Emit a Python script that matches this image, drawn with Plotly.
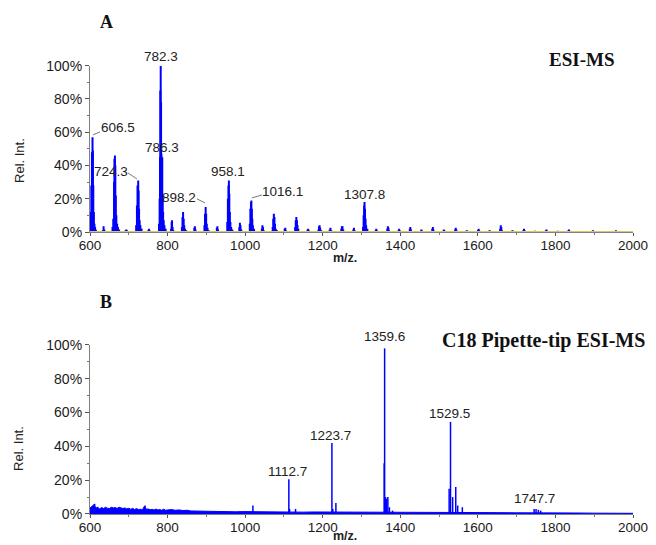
import plotly.graph_objects as go

# ---------------- data ----------------
# Panel A: ESI-MS, stick intensities (m/z, % rel. int.)
a_mz = [601, 602, 603.5, 605, 606.5, 607.5, 608.5, 610, 611.5, 613, 615,
        633, 635, 637,
        658, 660, 662, 663, 664.3, 665.3, 666.5, 668, 670, 672, 675,
        692, 693.5, 695,
        719, 721, 722.5, 724.3, 725.3, 726.5, 728, 730, 733,
        750.5, 752, 753.5,
        778, 779.5, 780.5, 781.3, 782.3, 783.2, 784.2, 785.2, 786.3, 787.3, 788.5, 790, 792, 795,
        809, 810.5, 811.5, 813, 815,
        837, 838.5, 840, 841.5, 843, 845, 848,
        869, 870.5, 872,
        895, 896.5, 898.2, 899.5, 901, 903, 906,
        927, 928.5, 930,
        954, 955.5, 957, 958.1, 959.2, 960.5, 962, 964, 967,
        985, 986.5, 988, 990,
        1012, 1013.5, 1015, 1016.1, 1017.3, 1018.5, 1020, 1023,
        1043, 1044.5, 1046, 1048,
        1071, 1072.5, 1074, 1075.5, 1077, 1079, 1082,
        1102, 1103.5, 1105,
        1129, 1130.5, 1132, 1133.5, 1135, 1137,
        1161, 1162.5, 1164,
        1189, 1190.5, 1192, 1193.5, 1196,
        1218, 1220, 1222,
        1248, 1249.5, 1251, 1253,
        1279, 1280.5, 1282,
        1304, 1305.5, 1306.8, 1307.8, 1309, 1310.5, 1312, 1315,
        1336.5, 1338, 1339.5,
        1366.5, 1368, 1369.5, 1371,
        1395.5, 1397, 1398.5,
        1424.5, 1426, 1427.5,
        1454, 1455.5,
        1482.5, 1484, 1485.5,
        1512, 1513.5,
        1541.5, 1543, 1544.5,
        1571, 1572.5,
        1600.5, 1602, 1603.5,
        1630, 1631.5,
        1657.5, 1659, 1660.5, 1662,
        1689, 1690.5,
        1717.5, 1719, 1720.5,
        1747,
        1775.5, 1777, 1778.5,
        1806,
        1833.5, 1835, 1836.5,
        1865,
        1895.5, 1897, 1898.5,
        1926,
        1954.5, 1956, 1957.5]
a_int = [12, 10, 28, 48, 57, 49, 28, 12, 5, 3, 1.5,
         1, 3.5, 1.5,
         3, 8, 30, 44, 46, 40, 22, 10, 5, 3, 1.5,
         1, 1.5, 1,
         4, 16, 28, 31, 25, 14, 7, 4, 2,
         1, 2, 1,
         5, 20, 45, 85, 100, 78, 47, 44, 45, 22, 12, 7, 4, 2,
         2, 6, 7, 3, 1,
         3, 9, 12, 8, 4, 2, 1,
         2.5, 3.5, 1.5,
         4, 11, 15, 11, 5, 2.5, 1,
         2.5, 3.5, 1.5,
         6, 20, 28, 31, 23, 12, 6, 3, 1.5,
         3, 5.5, 4, 1.5,
         5, 14, 18, 19, 14, 8, 4, 2,
         2, 4, 3, 1,
         3, 8, 11, 9, 5, 2, 1,
         2, 2.5, 1,
         3, 7, 9, 7, 4, 2,
         1.5, 2, 1,
         1.5, 3.5, 4, 2.5, 1,
         1.5, 2.5, 1,
         2, 3.5, 3.5, 1.5,
         1.5, 2.5, 1,
         3, 10, 16, 18, 14, 8, 4, 2,
         1, 2, 1,
         2, 3.5, 2.5, 1,
         1, 2, 1,
         2, 3, 1.5,
         1.5, 1,
         2, 3, 1.5,
         1.5, 1,
         1.5, 2.5, 1.5,
         1, 0.7,
         1.2, 2, 1,
         1, 0.7,
         2, 4, 3, 1,
         1, 0.7,
         1.2, 2, 1,
         0.7,
         1, 1.5, 0.8,
         0.7,
         1, 1.5, 0.8,
         0.5,
         0.7, 1, 0.6,
         0.5,
         0.6, 1, 0.6]

# Panel B: C18 pipette-tip ESI-MS (noise floor + peaks)
b_noise_mz = [600, 605, 610, 615, 620, 625, 630, 635, 640, 645, 650, 655, 660, 665, 670,
              675, 680, 685, 690, 695, 700, 705, 710, 715, 720, 725, 730, 735, 740, 745,
              750, 755, 760, 765, 770, 775, 780, 785, 790, 795, 800, 810, 820, 830, 840,
              850, 860, 875, 890, 900, 925, 950, 975, 1000, 1025, 1050, 1075, 1100, 1125,
              1150, 1175, 1200, 1250, 1300, 1350, 1400, 1450, 1500, 1550, 1600, 1650,
              1700, 1750, 1800, 1850, 1900, 1950, 2000]
b_noise_int = [3.5, 4.5, 5.5, 3.5, 4, 3, 3.8, 3.2, 4, 3.4, 3.2, 4, 3.6, 3.8, 3.3,
               4, 3.5, 3.2, 3.6, 3, 3.4, 2.8, 3.3, 2.7, 3.2, 2.6, 2.8, 2.4, 4.5, 2.8,
               3, 2.5, 2.8, 2.3, 2.9, 2.4, 2.6, 2.2, 2.8, 2.2, 2.4, 2.6, 2.2, 2.4, 2,
               2.2, 1.8, 1.7, 1.6, 1.5, 1.4, 1.5, 1.3, 1.4, 1.3, 1.2, 1.3, 1.2, 1.3,
               1.1, 1.2, 1.2, 1.1, 1.0, 1.1, 1.0, 0.9, 1.0, 1.0, 0.8, 0.8,
               0.7, 0.8, 0.6, 0.6, 0.5, 0.5, 0.4]
b_mz = [612, 742, 1020, 1112.7, 1114.5, 1130, 1223.7, 1226, 1234,
        1358.5, 1359.6, 1362, 1365, 1368, 1372, 1380,
        1526, 1529.5, 1535, 1543, 1548, 1560,
        1745, 1750, 1756, 1762]
b_int = [6, 5, 5, 20.5, 3, 3, 42, 3, 6.5,
         30, 98, 10, 9, 10, 4, 2,
         15, 54.5, 10, 16, 5, 4,
         3, 3, 2.5, 2]

# peak labels: (text, x in m/z, y in % of axis)
a_labels = [("606.5", 672, 62.7), ("724.3", 654, 36.1), ("782.3", 783, 105.4),
            ("786.3", 785.6, 50.6), ("898.2", 829.4, 20.5), ("958.1", 955.8, 36.1),
            ("1016.1", 1097.5, 24.1), ("1307.8", 1309, 22.3)]
a_leaders = [(607.7, 58.4, 625.8, 60.2), (698, 35.5, 721, 31.9),
             (875.8, 19.9, 896.5, 17.5), (1017.6, 20.5, 1043.4, 22.3)]
b_labels = [("1112.7", 1110.4, 24.9), ("1223.7", 1221.3, 46.7), ("1359.6", 1358, 105.3),
            ("1529.5", 1528, 59.2), ("1747.7", 1747, 8.9)]

y_ticks = [0, 20, 40, 60, 80, 100]
y_ticktext = ["0%", "20%", "40%", "60%", "80%", "100%"]
x_ticks = [600, 800, 1000, 1200, 1400, 1600, 1800, 2000]

BLUE = "#0000ff"


def sticks(mz, inten):
    xs, ys = [], []
    for m, v in zip(mz, inten):
        xs += [m, m, None]
        ys += [0, v, None]
    return xs, ys


fig = go.Figure()

xa, ya = sticks(a_mz, a_int)
fig.add_trace(go.Scatter(x=xa, y=ya, mode="lines", line=dict(color=BLUE, width=2.0),
                         xaxis="x", yaxis="y", showlegend=False, hoverinfo="skip"))

fig.add_trace(go.Scatter(x=b_noise_mz, y=b_noise_int, mode="lines", fill="tozeroy",
                         fillcolor=BLUE, line=dict(color=BLUE, width=1),
                         xaxis="x2", yaxis="y2", showlegend=False, hoverinfo="skip"))
xb, yb = sticks(b_mz, b_int)
fig.add_trace(go.Scatter(x=xb, y=yb, mode="lines", line=dict(color=BLUE, width=1.5),
                         xaxis="x2", yaxis="y2", showlegend=False, hoverinfo="skip"))

xtickfont = dict(family="Liberation Sans, Arial, sans-serif", size=13.5, color="#1a1a1a")
ytickfont = dict(family="Liberation Sans, Arial, sans-serif", size=14, color="#1a1a1a")
xcommon = dict(range=[600, 2000], tickvals=x_ticks, ticks="outside", ticklen=3,
               tickcolor="#555", showline=True, linecolor="#808080", linewidth=1.2,
               showgrid=False, zeroline=False, tickfont=xtickfont, automargin=False,
               ticklabelstandoff=-2,
               minor=dict(dtick=100, ticks="outside", ticklen=2, tickcolor="#777"))
ycommon = dict(range=[0, 100], tickvals=y_ticks, ticktext=y_ticktext, ticks="outside",
               ticklen=4, tickcolor="#555", showline=True, linecolor="#808080",
               linewidth=1.2, showgrid=False, zeroline=False, tickfont=ytickfont,
               automargin=False,
               minor=dict(dtick=10, ticks="outside", ticklen=2, tickcolor="#777"))

fig.update_layout(
    width=656, height=545,
    margin=dict(l=90, r=23, t=0, b=0, autoexpand=False),
    paper_bgcolor="white", plot_bgcolor="white",
    xaxis=dict(domain=[0, 1], anchor="y", **xcommon),
    yaxis=dict(domain=[0.5743, 0.8795], anchor="x", **ycommon),
    xaxis2=dict(domain=[0, 1], anchor="y2", **xcommon),
    yaxis2=dict(domain=[0.0569, 0.3670], anchor="x2", **ycommon),
)

# yellowish base line in panel A
fig.add_shape(type="line", xref="x", yref="y", x0=600, x1=2000, y0=0.3, y1=0.3,
              line=dict(color="#d8c860", width=1))

lab_font = dict(family="Liberation Sans, Arial, sans-serif", size=13.5, color="#222")
for t, x, y in a_labels:
    fig.add_annotation(x=x, y=y / 100.0, xref="x", yref="y domain", text=t,
                       showarrow=False, xanchor="center", yanchor="middle", font=lab_font)
for x0, y0, x1, y1 in a_leaders:
    fig.add_shape(type="line", xref="x", yref="y", x0=x0, y0=y0, x1=x1, y1=y1,
                  line=dict(color="#777", width=1))
for t, x, y in b_labels:
    fig.add_annotation(x=x, y=y / 100.0, xref="x2", yref="y2 domain", text=t,
                       showarrow=False, xanchor="center", yanchor="middle", font=lab_font)

serif = "Liberation Serif, Times New Roman, serif"
fig.add_annotation(x=0.0295, y=0.9596, xref="paper", yref="paper", text="<b>A</b>",
                   xanchor="center", yanchor="middle", showarrow=False,
                   font=dict(family=serif, size=18, color="#111"))
fig.add_annotation(x=0.0295, y=0.4459, xref="paper", yref="paper", text="<b>B</b>",
                   xanchor="center", yanchor="middle", showarrow=False,
                   font=dict(family=serif, size=18, color="#111"))
fig.add_annotation(x=0.8416, y=0.8917, xref="paper", yref="paper", text="<b>ESI-MS</b>",
                   xanchor="left", yanchor="middle", showarrow=False,
                   font=dict(family=serif, size=19, color="#111"))
fig.add_annotation(x=0.6446, y=0.3761, xref="paper", yref="paper",
                   text="<b>C18 Pipette-tip ESI-MS</b>", xanchor="left", yanchor="middle",
                   showarrow=False, font=dict(family=serif, size=20, color="#111"))

for yy in (0.7064, 0.178):
    fig.add_annotation(x=-0.1308, y=yy, xref="paper", yref="paper", text="Rel. Int.",
                       textangle=-90, xanchor="center", yanchor="middle", showarrow=False,
                       font=dict(family="Liberation Sans, Arial, sans-serif", size=13, color="#222"))
for yy in (0.5266, 0.0165):
    fig.add_annotation(x=0.4696, y=yy, xref="paper", yref="paper", text="<b>m/z.</b>",
                       xanchor="center", yanchor="middle", showarrow=False, borderpad=0,
                       font=dict(family="Liberation Sans, Arial, sans-serif", size=12.5, color="#222"))

fig.write_html("out.html", config={"displayModeBar": False},
               post_script="document.body.style.margin='0';")
